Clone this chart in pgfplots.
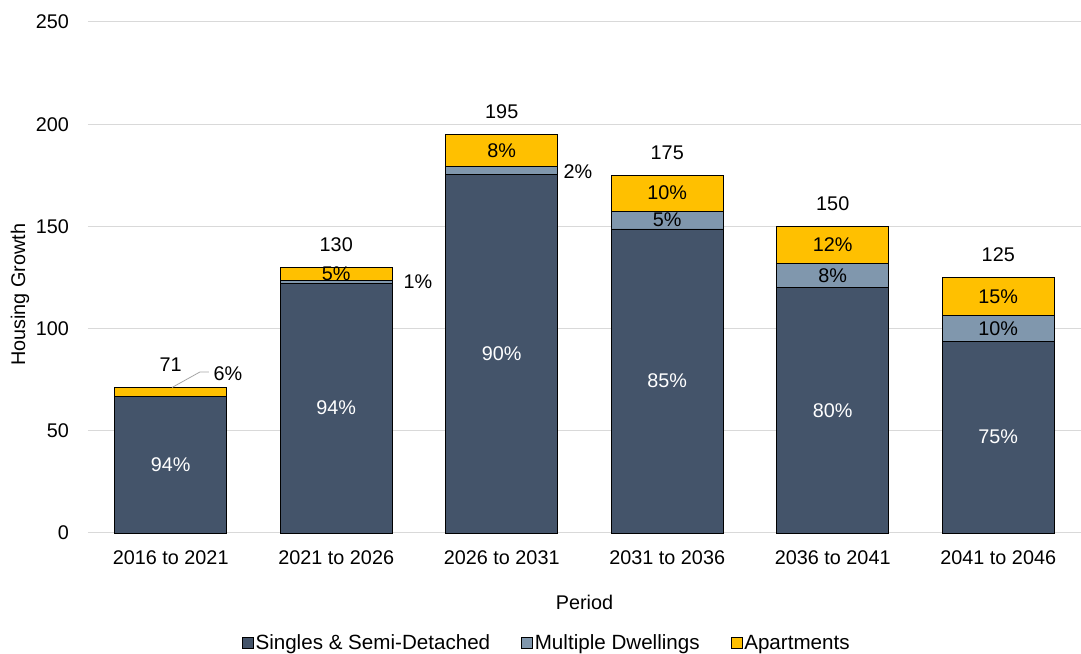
\documentclass[border=0pt]{standalone}
\usepackage{fontspec}
\setmainfont{Liberation Sans}
\usepackage{pgfplots}
\pgfplotsset{compat=1.18}
\definecolor{cSingle}{HTML}{44546A}
\definecolor{cMulti}{HTML}{8097AD}
\definecolor{cApt}{HTML}{FFC000}
\definecolor{cGrid}{HTML}{D9D9D9}
\definecolor{cLead}{HTML}{A6A6A6}
\begin{document}
\begin{tikzpicture}[font=\fontsize{19.8}{24}\selectfont]
\begin{axis}[name=ax,
  scale only axis, width=993pt, height=511pt,
  ybar stacked, bar width=0.677,
  xmin=-0.5, xmax=5.5, ymin=0, ymax=250,
  xtick={0,1,2,3,4,5},
  xticklabels={2016 to 2021,2021 to 2026,2026 to 2031,2031 to 2036,2036 to 2041,2041 to 2046},
  ytick={0,50,100,150,200,250},
  /pgf/number format/assume math mode=true,
  ymajorgrids, grid style={cGrid, line width=1pt},
  axis line style={draw=none}, major tick length=0,
  xticklabel style={anchor=center, yshift=-25pt},
  yticklabel style={anchor=east, inner sep=0pt, xshift=-19pt},
  every axis x label/.style={at={(rel axis cs:0.5,0)}, anchor=center, yshift=-69pt},
  every axis y label/.style={at={(rel axis cs:0,0.466)}, anchor=center, xshift=-68pt, rotate=90},
  xlabel={Period}, ylabel={Housing Growth},
  legend style={at={(rel axis cs:0.462,0)}, anchor=center, yshift=-110pt, draw=none, fill=none,
    font=\fontsize{20.6}{24}\selectfont,
    legend columns=3, /tikz/every even column/.append style={column sep=29pt},
    /tikz/every odd column/.append style={column sep=0pt},
    nodes={inner xsep=2pt},
    legend cell align=left},
  legend image code/.code={\draw[#1, draw=black, line width=0.6pt] (0pt,-5.5pt) rectangle (11pt,5.5pt);},
  clip=false,
  after end axis/.code={
    \node[anchor=base, yshift=16pt] at (axis cs:0,71) {71};
    \node[anchor=base, yshift=16pt] at (axis cs:1,130) {130};
    \node[anchor=base, yshift=16pt] at (axis cs:2,195) {195};
    \node[anchor=base, yshift=16pt] at (axis cs:3,175) {175};
    \node[anchor=base, yshift=16pt] at (axis cs:4,150) {150};
    \node[anchor=base, yshift=16pt] at (axis cs:5,125) {125};
    \node[white] at (axis cs:0,33.4) {94\%};
    \node[white] at (axis cs:1,61.1) {94\%};
    \node[white] at (axis cs:2,87.75) {90\%};
    \node[white] at (axis cs:3,74.4) {85\%};
    \node[white] at (axis cs:4,60) {80\%};
    \node[white] at (axis cs:5,46.9) {75\%};
    \node at (axis cs:1.494,122.8) {1\%};
    \node at (axis cs:2.46,176.6) {2\%};
    \node at (axis cs:3,153.1) {5\%};
    \node at (axis cs:4,126) {8\%};
    \node at (axis cs:5,100) {10\%};
    \node at (axis cs:0.346,78) {6\%};
    \draw[cLead, line width=0.8pt] (axis cs:0.008,71.2) -- (axis cs:0.177,78.8) -- (axis cs:0.231,78.8);
    \node at (axis cs:1,126.75) {5\%};
    \node at (axis cs:2,187.2) {8\%};
    \node at (axis cs:3,166.25) {10\%};
    \node at (axis cs:4,141) {12\%};
    \node at (axis cs:5,115.6) {15\%};
  },
]
\addplot[fill=cSingle, draw=black, line width=0.8pt] coordinates {(0,66.7) (1,122.2) (2,175.5) (3,148.75) (4,120) (5,93.75)};
\addplot[fill=cMulti, draw=black, line width=0.8pt] coordinates {(0,0) (1,1.3) (2,3.9) (3,8.75) (4,12) (5,12.5)};
\addplot[fill=cApt, draw=black, line width=0.8pt] coordinates {(0,4.3) (1,6.5) (2,15.6) (3,17.5) (4,18) (5,18.75)};
\legend{Singles \& Semi-Detached, Multiple Dwellings, Apartments}
\end{axis}
\pgfresetboundingbox
\path ([xshift=-88pt,yshift=-121pt]ax.south west) rectangle ([yshift=22pt]ax.north east);
\end{tikzpicture}
\end{document}
